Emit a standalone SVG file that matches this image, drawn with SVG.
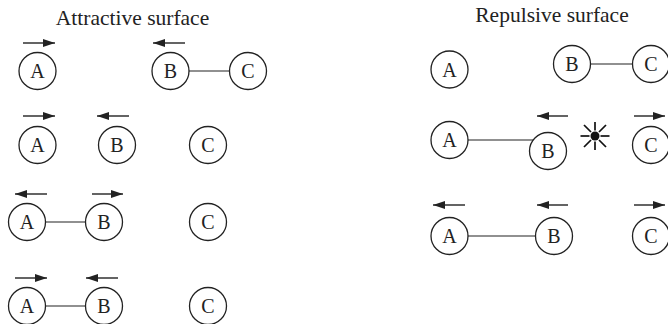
<svg xmlns="http://www.w3.org/2000/svg" width="668" height="324" viewBox="0 0 668 324">
<defs>
<marker id="ah" viewBox="0 0 12 8" refX="12" refY="4" markerWidth="12" markerHeight="8" markerUnits="userSpaceOnUse" orient="auto">
<path d="M0,0 L12,4 L0,8 Z" fill="#222"/>
</marker>
</defs>
<style>
.n circle{fill:#fff;stroke:#222;stroke-width:1.3}
.n text{font-family:"Liberation Serif","Times New Roman",serif;font-size:20px;fill:#222;text-anchor:middle}
.t{font-family:"Liberation Serif","Times New Roman",serif;font-size:21.5px;fill:#222;text-anchor:middle}
.c line{stroke:#222;stroke-width:1.2}
.a line{stroke:#222;stroke-width:1.4;marker-end:url(#ah)}
</style>
<rect width="668" height="324" fill="#fff"/>
<text class="t" x="132.5" y="25">Attractive surface</text>
<text class="t" x="552" y="21.5">Repulsive surface</text>
<g id="connectors" class="c">
<line x1="188.5" y1="71" x2="229.5" y2="71"/>
<line x1="45.5" y1="222" x2="85.5" y2="222"/>
<line x1="45.5" y1="306" x2="85.5" y2="306"/>
<line x1="590.5" y1="64" x2="632.5" y2="64"/>
<line x1="467.5" y1="140" x2="534" y2="140"/>
<line x1="467.5" y1="236" x2="535.5" y2="236"/>
</g>
<g id="arrows" class="a">
<line x1="23" y1="43" x2="55" y2="43"/>
<line x1="185" y1="43" x2="153" y2="43"/>
<line x1="23" y1="116" x2="55" y2="116"/>
<line x1="129" y1="116" x2="97" y2="116"/>
<line x1="47" y1="194" x2="15" y2="194"/>
<line x1="92" y1="194" x2="123" y2="194"/>
<line x1="15" y1="278" x2="47" y2="278"/>
<line x1="118" y1="278" x2="86" y2="278"/>
<line x1="568" y1="116" x2="537" y2="116"/>
<line x1="634" y1="116" x2="665" y2="116"/>
<line x1="465" y1="205" x2="433" y2="205"/>
<line x1="568" y1="205" x2="537" y2="205"/>
<line x1="634" y1="205" x2="665" y2="205"/>
</g>
<g id="l1A" class="n"><circle cx="37.5" cy="71" r="18.5"/><text x="37.5" y="78">A</text></g>
<g id="l1B" class="n"><circle cx="170.5" cy="71" r="18.5"/><text x="170.5" y="78">B</text></g>
<g id="l1C" class="n"><circle cx="248" cy="71" r="18.5"/><text x="248" y="78">C</text></g>
<g id="l2A" class="n"><circle cx="37.5" cy="145" r="18.5"/><text x="37.5" y="152">A</text></g>
<g id="l2B" class="n"><circle cx="117" cy="145" r="18.5"/><text x="117" y="152">B</text></g>
<g id="l2C" class="n"><circle cx="208" cy="145" r="18.5"/><text x="208" y="152">C</text></g>
<g id="l3A" class="n"><circle cx="27" cy="222" r="18.5"/><text x="27" y="229">A</text></g>
<g id="l3B" class="n"><circle cx="104" cy="222" r="18.5"/><text x="104" y="229">B</text></g>
<g id="l3C" class="n"><circle cx="208" cy="222" r="18.5"/><text x="208" y="229">C</text></g>
<g id="l4A" class="n"><circle cx="27" cy="306" r="18.5"/><text x="27" y="313">A</text></g>
<g id="l4B" class="n"><circle cx="104" cy="306" r="18.5"/><text x="104" y="313">B</text></g>
<g id="l4C" class="n"><circle cx="208" cy="306" r="18.5"/><text x="208" y="313">C</text></g>
<g id="r1A" class="n"><circle cx="449.5" cy="69.5" r="18.5"/><text x="449.5" y="76.5">A</text></g>
<g id="r1B" class="n"><circle cx="572" cy="64" r="18.5"/><text x="572" y="71">B</text></g>
<g id="r1C" class="n"><circle cx="651" cy="64" r="18.5"/><text x="651" y="71">C</text></g>
<g id="r2A" class="n"><circle cx="449.5" cy="140" r="18.5"/><text x="449.5" y="147">A</text></g>
<g id="r2B" class="n"><circle cx="548" cy="151" r="18.5"/><text x="548" y="158">B</text></g>
<g id="r2C" class="n"><circle cx="651" cy="145" r="18.5"/><text x="651" y="152">C</text></g>
<g id="r3A" class="n"><circle cx="449.5" cy="236" r="18.5"/><text x="449.5" y="243">A</text></g>
<g id="r3B" class="n"><circle cx="554" cy="236" r="18.5"/><text x="554" y="243">B</text></g>
<g id="r3C" class="n"><circle cx="651" cy="236" r="18.5"/><text x="651" y="243">C</text></g>
<g id="star" stroke="#111" stroke-width="1.7">
<circle cx="595" cy="136" r="4.5" fill="#111" stroke="none"/>
<line x1="600.5" y1="136" x2="609.5" y2="136"/>
<line x1="589.5" y1="136" x2="580.5" y2="136"/>
<line x1="595" y1="130.5" x2="595" y2="122"/>
<line x1="595" y1="141.5" x2="595" y2="150"/>
<line x1="599" y1="132" x2="606" y2="125"/>
<line x1="591" y1="132" x2="584" y2="125"/>
<line x1="599" y1="140" x2="606" y2="147"/>
<line x1="591" y1="140" x2="584" y2="147"/>
</g>
</svg>
